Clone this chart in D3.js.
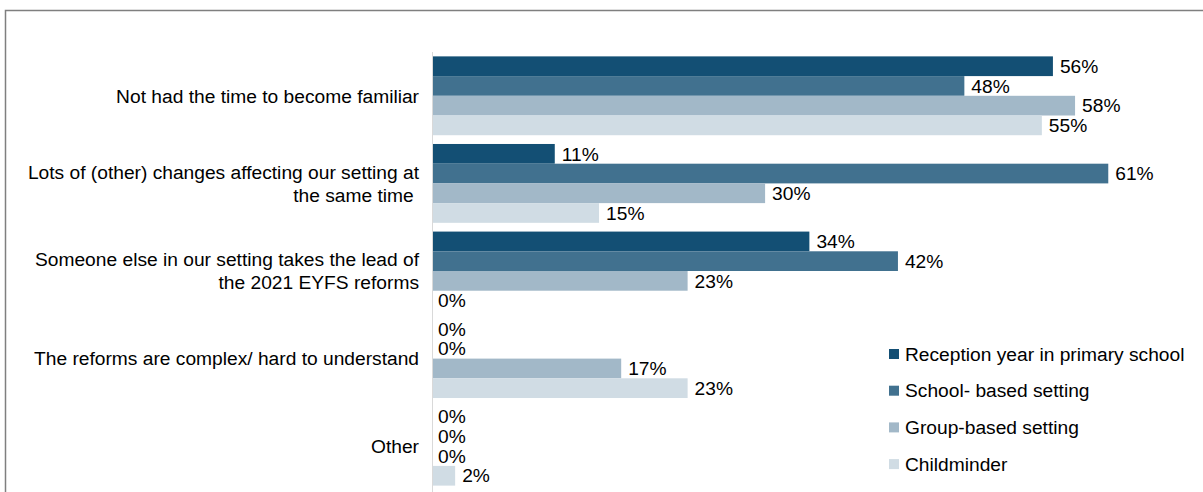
<!DOCTYPE html>
<html>
<head>
<meta charset="utf-8">
<script src="https://cdn.jsdelivr.net/npm/d3@7"></script>
<style>
  html, body { margin: 0; padding: 0; background: #fff; }
  svg { display: block; font-family: "Liberation Sans", Arial, sans-serif; }
</style>
</head>
<body>
<svg id="chart" width="1203" height="492"></svg>
<script>
const categories = [
  ["Not had the time to become familiar"],
  ["Lots of (other) changes affecting our setting at", "the same time\u00a0"],
  ["Someone else in our setting takes the lead of", "the 2021 EYFS reforms"],
  ["The reforms are complex/ hard to understand"],
  ["Other"]
];
const seriesNames = ["Reception year in primary school", "School- based setting", "Group-based setting", "Childminder"];
const reception = [56, 11, 34, 0, 0];
const schoolBased = [48, 61, 42, 0, 0];
const groupBased = [58, 30, 23, 17, 0];
const childminder = [55, 15, 0, 23, 2];
const colors = ["#134F74", "#41718F", "#A2B8C8", "#D0DCE4"];

const seriesValues = [reception, schoolBased, groupBased, childminder];
const svg = d3.select("#chart");
const FS = 19.2;

// frame
svg.append("path").attr("d", "M5.5,492 V10.5 H1203")
  .attr("fill", "none").attr("stroke", "#7f7f7f").attr("stroke-width", 1.5);

const x = d3.scaleLinear().domain([0, 100]).range([433, 433 + 1107]);
const y0 = d3.scaleBand().domain(d3.range(categories.length)).range([52, 490]).paddingInner(0.1).paddingOuter(0.05);
const y1 = d3.scaleBand().domain(d3.range(seriesNames.length)).range([0, y0.bandwidth()]);

// axis line
svg.append("line").attr("x1", 432.5).attr("x2", 432.5).attr("y1", 52).attr("y2", 492)
  .attr("stroke", "#d9d9d9").attr("stroke-width", 1);

const g = svg.append("g");
categories.forEach((cat, ci) => {
  seriesValues.forEach((vals, si) => {
    const v = vals[ci];
    const yy = y0(ci) + y1(si);
    if (v > 0) {
      g.append("rect").attr("x", x(0)).attr("y", yy)
        .attr("width", x(v) - x(0)).attr("height", y1.bandwidth())
        .attr("fill", colors[si]);
    }
    g.append("text").attr("x", x(v) + (v > 0 ? 7 : 5)).attr("y", yy + y1.bandwidth() / 2)
      .attr("dy", "0.35em").attr("font-size", FS).attr("fill", "#000")
      .text(v + "%");
  });
  const cy = y0(ci) + y0.bandwidth() / 2;
  const lh = 23;
  const t = svg.append("text").attr("text-anchor", "end").attr("font-size", FS).attr("fill", "#000");
  cat.forEach((line, li) => {
    t.append("tspan").attr("x", 419)
      .attr("y", cy + (li - (cat.length - 1) / 2) * lh)
      .attr("dy", "0.35em").text(line);
  });
});

// legend
const leg = svg.append("g");
seriesNames.forEach((name, i) => {
  const ly = 354 + i * 36.7;
  leg.append("rect").attr("x", 889).attr("y", ly - 5).attr("width", 10).attr("height", 10).attr("fill", colors[i]);
  leg.append("text").attr("x", 905).attr("y", ly).attr("dy", "0.35em").attr("font-size", FS).text(name);
});
</script>
</body>
</html>
